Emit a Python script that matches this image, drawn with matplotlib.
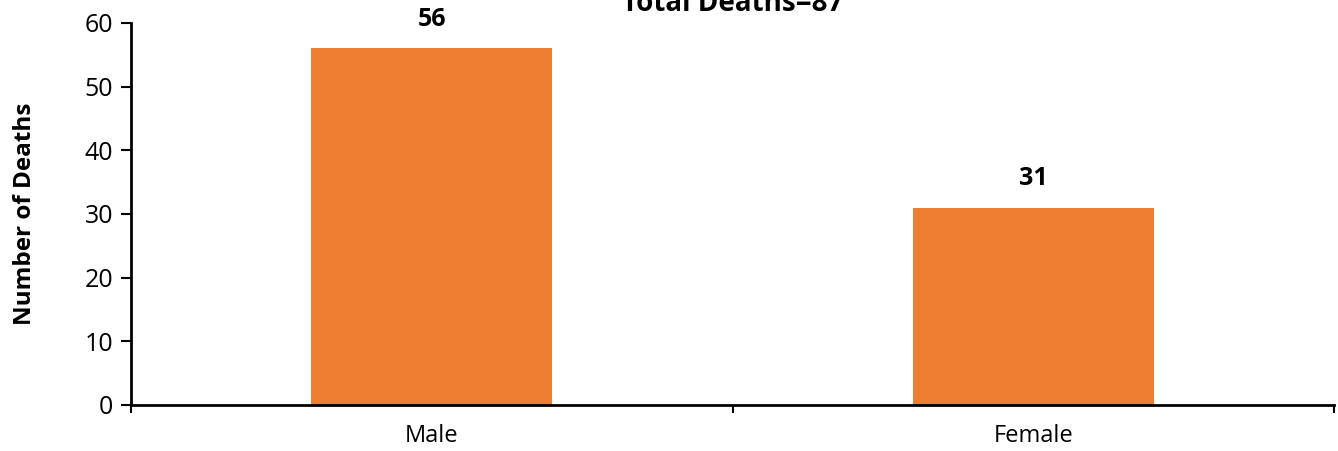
import matplotlib
matplotlib.use("Agg")
import matplotlib.pyplot as plt

categories = ["Male", "Female"]
deaths = [56, 31]
total_deaths = 87
y_ticks = [0, 10, 20, 30, 40, 50, 60]

plt.rcParams['font.family'] = ['Open Sans', 'DejaVu Sans']

W, H = 1338, 451
fig = plt.figure(figsize=(W / 100, H / 100), dpi=100)
ax = fig.add_axes([131 / W, 1 - 405 / H, (1334 - 131) / W, (405 - 23) / H])

x = range(len(categories))
bars = ax.bar(x, deaths, width=0.4, color="#ED7D31")

for xi, v in zip(x, deaths):
    ax.annotate(str(v), (xi, v), xytext=(0, 12), textcoords="offset points",
                ha="center", va="bottom", fontsize=18, fontweight="bold")

ax.set_xlim(-0.5, len(categories) - 0.5)
ax.set_ylim(0, 60)
ax.set_yticks(y_ticks)
ax.tick_params(axis='y', labelsize=18, length=7, width=1.5, direction='out', pad=6)

# category labels centred, tick marks on category boundaries
ax.set_xticks(list(x))
ax.set_xticklabels(categories, fontsize=17)
ax.tick_params(axis='x', which='major', length=0, pad=14)
ax.set_xticks([i - 0.5 for i in range(len(categories) + 1)], minor=True)
ax.tick_params(axis='x', which='minor', length=6, width=1.5, direction='out')

for s in ("top", "right"):
    ax.spines[s].set_visible(False)
for s in ("left", "bottom"):
    ax.spines[s].set_linewidth(2)

ax.set_ylabel("Number of Deaths", fontsize=17.5, fontweight="bold", labelpad=34)

fig.text(ax.get_position().x0 + ax.get_position().width / 2, 1 - 11 / H,
         f"Total Deaths={total_deaths}", ha="center", va="baseline",
         fontsize=20, fontweight="bold")

fig.savefig("out.png", dpi=100)
